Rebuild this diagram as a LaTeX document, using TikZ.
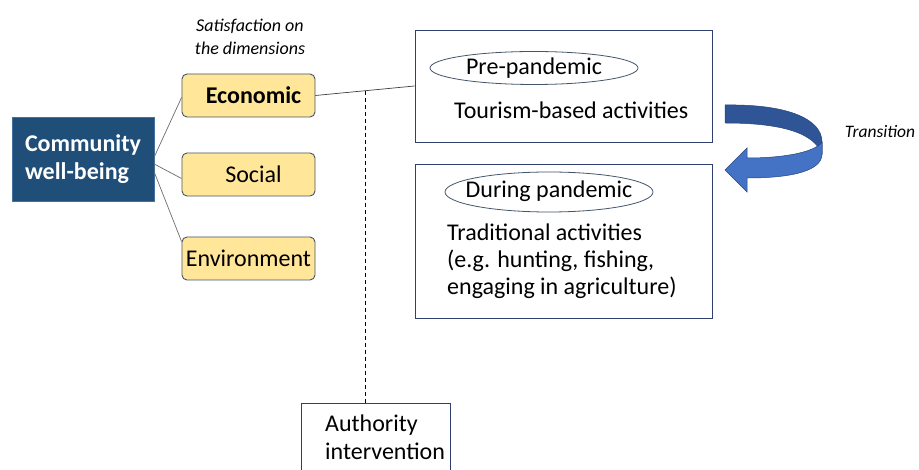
\documentclass[tikz,border=0pt]{standalone}
\usepackage{fontspec}
\setmainfont{Carlito}
\usetikzlibrary{calc,positioning,shapes.geometric}
\definecolor{navy}{HTML}{1F4E79}
\definecolor{navyedge}{HTML}{41719C}
\definecolor{yel}{HTML}{FFE699}
\definecolor{yeledge}{HTML}{44546A}
\definecolor{boxedge}{HTML}{2F3F70}
\definecolor{arrdark}{HTML}{2F5597}
\definecolor{arrlight}{HTML}{4472C4}
\tikzset{
  mainbox/.style={draw=navyedge, fill=navy, text=white, font=\fontsize{24}{28}\selectfont\bfseries,
    minimum width=142pt, minimum height=84pt, align=left, inner sep=0pt},
  dimbox/.style={draw=yeledge, fill=yel, rounded corners=5pt, line width=0.9pt,
    minimum width=133pt, minimum height=43pt, inner sep=0pt, font=\fontsize{24}{28}\selectfont},
  phasebox/.style={draw=boxedge, line width=0.9pt, minimum width=297pt, inner sep=0pt},
  tag/.style={draw=yeledge, ellipse, line width=0.8pt},
  body/.style={font=\fontsize{24}{26.8}\selectfont, align=left, inner sep=0pt},
  link/.style={draw=gray!85!black, line width=0.7pt},
  note/.style={font=\fontsize{18}{23}\selectfont\itshape, align=left, inner sep=0pt}
}
\begin{document}
\begin{tikzpicture}[x=1pt,y=-1pt]
\clip (0,0) rectangle (919,470);
\fill[white] (0,0) rectangle (919,470);

% left part
\node[mainbox] (comm) at (83,159) {Community\\well-being};
\node[dimbox] (econ) at (248.5,95.5) {\hspace*{10pt}\textbf{Economic}};
\node[dimbox] (soc) at (248.5,174.5) {\hspace*{10pt}Social};
\node[dimbox] (env) at (248.5,258.5) {Environment};
\node[note, align=center] (sat) at (250,37) {Satisfaction on\\the dimensions};

\draw[link] ([yshift=2pt]comm.east) -- ([yshift=-2pt]econ.west);
\draw[link] ([yshift=-5pt]comm.east) -- ([yshift=-4pt]soc.west);
\draw[link] ([yshift=-13pt]comm.east) -- ([yshift=17pt]env.west);

% phase boxes
\node[phasebox, minimum height=112pt] (pre) at (563.5,86) {};
\node[tag, minimum width=208pt, minimum height=33pt] (pretag) at (534,68) {};
\node[body] (pretxt) at (534,68) {Pre-pandemic};
\node[body, anchor=west] (tour) at (454,110) {Tourism-based activities};

\node[phasebox, minimum height=154pt] (dur) at (563.5,241) {};
\node[tag, minimum width=208pt, minimum height=40pt] (durtag) at (549,192) {};
\node[body] (durtxt) at (549,191) {During pandemic};
\node[body, anchor=north west] (trad) at (447,224) {Traditional activities\\(e.g. hunting, fishing,\\engaging in agriculture)};

% connectors
\draw[link, draw=black!75] (econ.east) -- (pre.west);
\coordinate (dtop) at ($(econ.east)!0.5!(pre.west)$);

\node[draw=boxedge, line width=0.9pt, minimum width=149pt, minimum height=80pt, inner sep=0pt] (auth) at (375.5,443) {};
\node[body, anchor=north west, font=\fontsize{24}{28}\selectfont] (authtxt) at (325,415) {Authority\\intervention};
\draw[black, line width=0.8pt, dash pattern=on 4pt off 3pt] (dtop) -- (dtop |- auth.north);

% transition arrow
\fill[arrdark, draw=arrdark!80!black, line width=0.5pt]
  (725,105) .. controls (790,104) and (822,120) .. (822,142)
  -- (822,154) .. controls (815,136) and (790,123) .. (725,123) -- cycle;
\fill[arrlight, draw=arrdark!80!black, line width=0.5pt]
  (822,142) -- (822,154) .. controls (822,170) and (795,178) .. (747,178)
  -- (747,192) -- (725,170) -- (747,148) -- (747,158)
  .. controls (785,158) and (815,152) .. (822,142) -- cycle;
\node[note] (trans) at (880,132) {\fontsize{17.5}{20}\selectfont Transition};
\end{tikzpicture}
\end{document}
